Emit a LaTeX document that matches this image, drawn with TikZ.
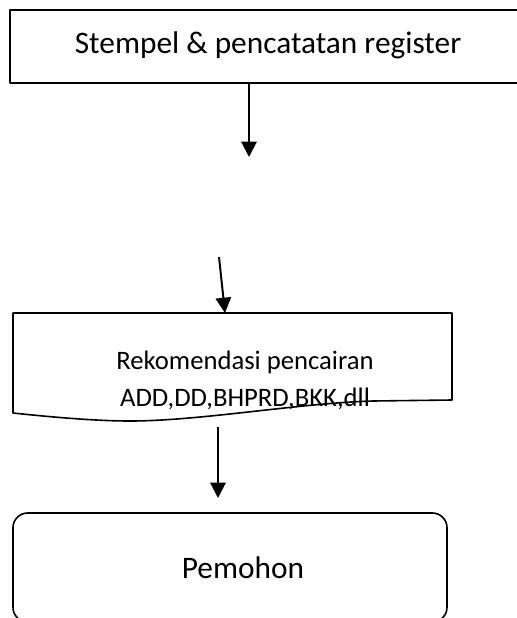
\documentclass[tikz,border=0pt]{standalone}
\usepackage{fontspec}
\setmainfont{Carlito}
\usetikzlibrary{arrows.meta}
\begin{document}
\begin{tikzpicture}[x=0.75pt,y=-0.75pt,
  box/.style={draw=black, line width=1.2pt, line join=round},
  flow/.style={draw=black, line width=1.5pt, -{Triangle[width=11.5pt,length=11.5pt]}},
  bigtext/.style={font=\fontsize{23.5}{28}\selectfont, anchor=base, inner sep=0pt},
  doctext/.style={font=\fontsize{20}{24}\selectfont, anchor=base, inner sep=0pt}]
\useasboundingbox (0,0) rectangle (517,618);
\clip (0,0) rectangle (517,618);

% process box: stamp and register
\draw[box] (10,10) rectangle (540,83);
\node[bigtext] (stempel) at (268,53) {Stempel \& pencatatan register};
\coordinate (stempel-out) at (249,84);
\coordinate (stempel-end) at (249,157);
\draw[flow] (stempel-out) -- (stempel-end);

% document shape: disbursement recommendation
\coordinate (rek-start) at (219,257);
\coordinate (rek-in) at (225,313);
\draw[flow] (rek-start) -- (rek-in);
\draw[box] (13,413) -- (13,313) -- (452,313) -- (452,400) -- (373,401)
  .. controls (300,403) and (200,421) .. (130,421)
  .. controls (100,421) and (60,418) .. (13,413) -- cycle;
\node[doctext] (rek1) at (245,369) {Rekomendasi pencairan};
\node[doctext] (rek2) at (245,406) {ADD,DD,BHPRD,BKK,dll};
\coordinate (rek-out) at (218,427);
\coordinate (rek-end) at (218,498);
\draw[flow] (rek-out) -- (rek-end);

% terminal: applicant
\draw[box, rounded corners=11pt] (13,513) rectangle (447,622);
\node[bigtext] (pemohon) at (243,578) {Pemohon};
\end{tikzpicture}
\end{document}
